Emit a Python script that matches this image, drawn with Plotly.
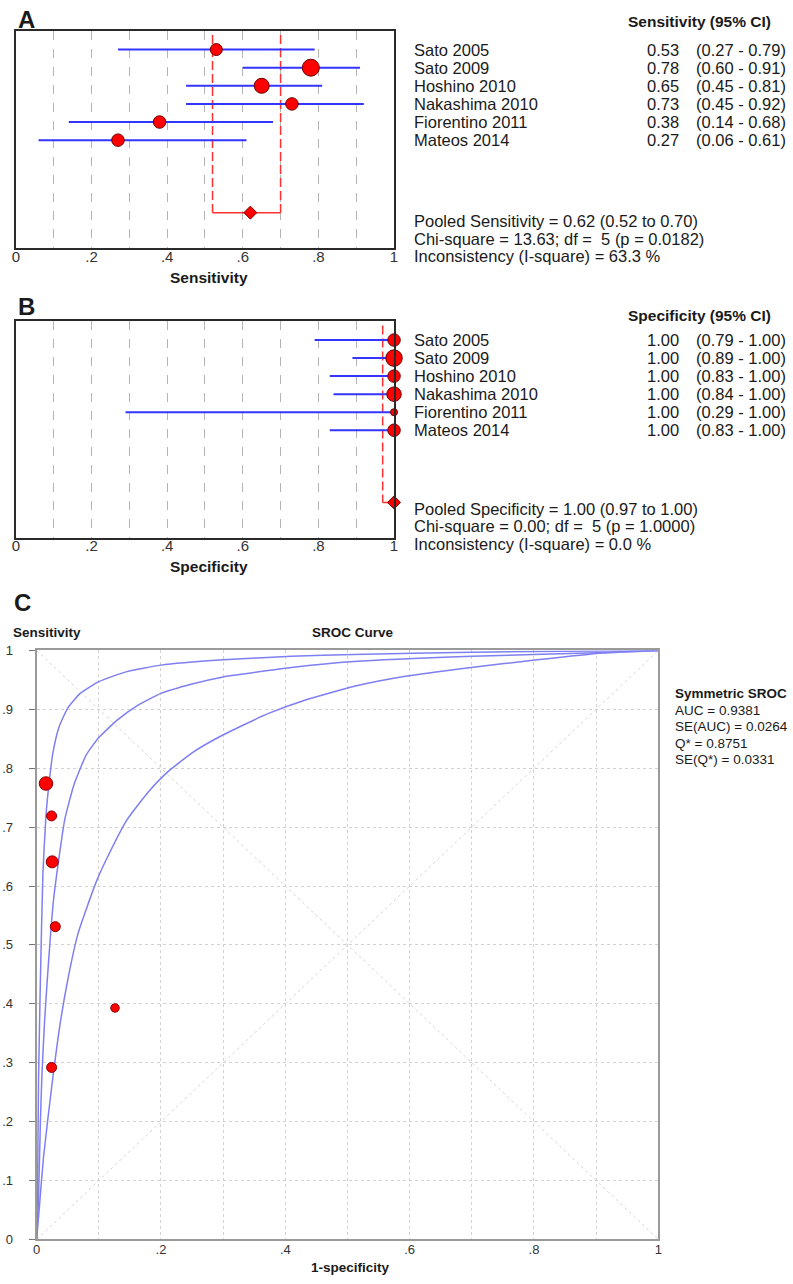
import plotly.graph_objects as go

# ---------------- data ----------------
studies = ["Sato 2005", "Sato 2009", "Hoshino 2010", "Nakashima 2010", "Fiorentino 2011", "Mateos 2014"]

sens = [0.53, 0.78, 0.65, 0.73, 0.38, 0.27]
sens_lo = [0.27, 0.60, 0.45, 0.45, 0.14, 0.06]
sens_hi = [0.79, 0.91, 0.81, 0.92, 0.68, 0.61]
sens_weight = [12, 17, 15, 12.5, 12.5, 12.5]
pooled_sens = [0.62, 0.52, 0.70]  # estimate, low, high
sens_stats = ["Pooled Sensitivity = 0.62 (0.52 to 0.70)",
              "Chi-square = 13.63; df = \u00a05 (p = 0.0182)",
              "Inconsistency (I-square) = 63.3 %"]

spec = [1.00, 1.00, 1.00, 1.00, 1.00, 1.00]
spec_lo = [0.79, 0.89, 0.83, 0.84, 0.29, 0.83]
spec_hi = [1.00, 1.00, 1.00, 1.00, 1.00, 1.00]
spec_weight = [12.5, 16.5, 12.5, 14.5, 7, 12.5]
pooled_spec = [1.00, 0.97, 1.00]
spec_stats = ["Pooled Specificity = 1.00 (0.97 to 1.00)",
              "Chi-square = 0.00; df = \u00a05 (p = 1.0000)",
              "Inconsistency (I-square) = 0.0 %"]

# SROC panel: study points (1-specificity, sensitivity)
roc_fpr = [0.030, 0.015, 0.025, 0.024, 0.126, 0.024]
roc_tpr = [0.531, 0.774, 0.641, 0.719, 0.393, 0.292]
roc_weight = [10, 13.5, 12, 10, 8.5, 10]

# SROC curves
upper_x = [0, 0.0015, 0.003, 0.006, 0.010, 0.015, 0.020, 0.026, 0.036, 0.050, 0.070, 0.100,
           0.145, 0.200, 0.300, 0.410, 0.510, 0.700, 0.900, 1.0]
upper_y = [0, 0.09, 0.27, 0.44, 0.62, 0.72, 0.775, 0.825, 0.870, 0.902, 0.927, 0.947,
           0.964, 0.975, 0.984, 0.990, 0.993, 0.997, 0.999, 1.0]
mid_x = [0, 0.003, 0.006, 0.0085, 0.0127, 0.019, 0.027, 0.035, 0.045, 0.060, 0.080, 0.100,
         0.130, 0.160, 0.200, 0.250, 0.300, 0.360, 0.410, 0.510, 0.700, 0.900, 1.0]
mid_y = [0, 0.07, 0.20, 0.28, 0.37, 0.47, 0.575, 0.641, 0.712, 0.772, 0.823, 0.852,
         0.882, 0.905, 0.927, 0.943, 0.955, 0.964, 0.971, 0.981, 0.990, 0.996, 1.0]
lower_x = [0, 0.0032, 0.011, 0.0243, 0.0376, 0.0508, 0.0667, 0.0958, 0.112, 0.145, 0.180, 0.209,
           0.250, 0.283, 0.330, 0.373, 0.430, 0.511, 0.593, 0.699, 0.805, 0.910, 1.0]
lower_y = [0, 0.04, 0.14, 0.26, 0.365, 0.445, 0.52, 0.607, 0.645, 0.712, 0.760, 0.792,
           0.826, 0.847, 0.872, 0.893, 0.915, 0.939, 0.956, 0.971, 0.984, 0.9955, 1.0]

sroc_stats = ["AUC = 0.9381", "SE(AUC) = 0.0264", "Q* = 0.8751", "SE(Q*) = 0.0331"]

ab_ticks = [0, 0.1, 0.2, 0.3, 0.4, 0.5, 0.6, 0.7, 0.8, 0.9, 1.0]
ab_ticktext = ["0", "", ".2", "", ".4", "", ".6", "", ".8", "", "1"]
c_yticktext = ["0", ".1", ".2", ".3", ".4", ".5", ".6", ".7", ".8", ".9", "1"]
c_xticktext = ["0", "", ".2", "", ".4", "", ".6", "", ".8", "", "1"]

# ---------------- layout helpers ----------------
W, H = 793, 1284
FONT = "Liberation Sans, Arial, sans-serif"
TXT = "#1a1a1a"


def px(x):
    return x / W


def py(y):
    return 1 - y / H


rows = list(range(1, len(studies) + 1))
POOL_ROW = 10
LINE_TOP = 0.2
Y_RANGE = [11.96, -0.04]

BLUE = "#3434ff"
RED = "#ff0000"
EDGE = "#6a0000"

fig = go.Figure()


def forest(xa, ya, est, lo, hi, wts, pooled, dash_lines):
    xs, ys = [], []
    for r, a, b in zip(rows, lo, hi):
        xs += [a, b, None]
        ys += [r, r, None]
    vx, vy = [], []
    for v in dash_lines:
        vx += [v, v, None]
        vy += [LINE_TOP, POOL_ROW, None]
    fig.add_trace(go.Scatter(x=vx, y=vy, mode="lines", xaxis=xa, yaxis=ya,
                             line=dict(color="#ff3030", width=1.5, dash="9px,4px"),
                             hoverinfo="skip", showlegend=False))
    fig.add_trace(go.Scatter(x=[pooled[1], pooled[2]], y=[POOL_ROW, POOL_ROW], mode="lines",
                             xaxis=xa, yaxis=ya, line=dict(color="#ff3030", width=1.5),
                             hoverinfo="skip", showlegend=False))
    fig.add_trace(go.Scatter(x=xs, y=ys, mode="lines", xaxis=xa, yaxis=ya,
                             line=dict(color=BLUE, width=2), showlegend=False))
    fig.add_trace(go.Scatter(x=est, y=rows, mode="markers", xaxis=xa, yaxis=ya, cliponaxis=False,
                             marker=dict(color=RED, opacity=1, size=wts,
                                         line=dict(color=EDGE, width=1)),
                             showlegend=False))
    fig.add_trace(go.Scatter(x=[pooled[0]], y=[POOL_ROW], mode="markers", xaxis=xa, yaxis=ya,
                             cliponaxis=False,
                             marker=dict(color=RED, opacity=1, symbol="diamond", size=10,
                                         line=dict(color=EDGE, width=1)),
                             showlegend=False))


forest("x", "y", sens, sens_lo, sens_hi, sens_weight, pooled_sens, [pooled_sens[1], pooled_sens[2]])
forest("x2", "y2", spec, spec_lo, spec_hi, spec_weight, pooled_spec, [pooled_spec[1]])

# ---- SROC panel ----
for dx, dy in [([0, 1], [0, 1]), ([0, 1], [1, 0])]:
    fig.add_trace(go.Scatter(x=dx, y=dy, mode="lines", xaxis="x3", yaxis="y3",
                             line=dict(color="#d6d6d6", width=1, dash="dot"),
                             hoverinfo="skip", showlegend=False))
for cx, cy in [(upper_x, upper_y), (mid_x, mid_y), (lower_x, lower_y)]:
    fig.add_trace(go.Scatter(x=cx, y=cy, mode="lines", xaxis="x3", yaxis="y3",
                             line=dict(color="#7f7ff2", width=1.5, shape="spline", smoothing=0.5),
                             showlegend=False))
fig.add_trace(go.Scatter(x=roc_fpr, y=roc_tpr, mode="markers", xaxis="x3", yaxis="y3",
                         cliponaxis=False,
                         marker=dict(color=RED, opacity=1, size=roc_weight,
                                     line=dict(color="#8a0000", width=1)),
                         showlegend=False))

ab_x = dict(range=[0, 1], tickvals=ab_ticks, ticktext=ab_ticktext, showgrid=True,
            gridcolor="#b4b4b4", griddash="dash", gridwidth=1, zeroline=False,
            showline=True, mirror=True, linecolor="#2a2a2a", linewidth=1.5, ticks="",
            ticklabelstandoff=-6,
            tickfont=dict(family=FONT, size=15, color="#333"), domain=[px(12), px(394)])
ab_y = dict(range=Y_RANGE, showgrid=False, zeroline=False, showticklabels=False,
            showline=True, mirror=True, linecolor="#2a2a2a", linewidth=1.5, ticks="")

fig.update_layout(
    width=W, height=H, margin=dict(l=0, r=0, t=0, b=0),
    plot_bgcolor="white", paper_bgcolor="white",
    font=dict(family=FONT, color=TXT),
    xaxis=dict(ab_x, anchor="y"),
    yaxis=dict(ab_y, anchor="x", domain=[py(244), py(24)]),
    xaxis2=dict(ab_x, anchor="y2"),
    yaxis2=dict(ab_y, anchor="x2", domain=[py(537), py(318)]),
    xaxis3=dict(range=[0, 1], tickvals=ab_ticks, ticktext=c_xticktext, showgrid=True,
                gridcolor="#d2d2d2", griddash="dot", zeroline=False, showline=True, mirror=True,
                linecolor="#9a9a9a", linewidth=2, ticks="", anchor="y3", ticklabelstandoff=-3,
                tickfont=dict(family=FONT, size=13, color="#333"), domain=[px(33), px(661)]),
    yaxis3=dict(range=[0, 1], tickvals=ab_ticks, ticktext=c_yticktext, showgrid=True,
                gridcolor="#d2d2d2", griddash="dot", zeroline=False, showline=True, mirror=True,
                linecolor="#9a9a9a", linewidth=2, ticks="outside", ticklen=6, tickcolor="#777",
                ticklabelstandoff=13, anchor="x3",
                tickfont=dict(family=FONT, size=13, color="#333"), domain=[py(1247), py(651)]),
)

ann = []


def note(text, x, y, size, xanchor="left", bold=False, yref="paper", yanchor="middle"):
    ann.append(dict(text=f"<b>{text}</b>" if bold else text, x=x, y=y, xref="paper", yref=yref,
                    xanchor=xanchor, yanchor=yanchor, showarrow=False,
                    font=dict(family=FONT, size=size, color=TXT)))


# panel letters
note("A", px(12), py(13), 24, bold=True)
note("B", px(12), py(303), 24, bold=True)
note("C", px(8), py(603), 24, bold=True)

# forest text blocks
for yref, header, hy, est, lo, hi, stats, sy in [
        ("y", "Sensitivity (95% CI)", 15, sens, sens_lo, sens_hi, sens_stats, 217),
        ("y2", "Specificity (95% CI)", 312, spec, spec_lo, spec_hi, spec_stats, 508)]:
    note(header, px(777), py(hy), 15.5, xanchor="right", bold=True)
    for r, name, e, a, b in zip(rows, studies, est, lo, hi):
        note(name, px(412), r, 16.5, yref=yref)
        note(f"{e:.2f}", px(684), r, 16.5, xanchor="right", yref=yref)
        note(f"({a:.2f} - {b:.2f})", px(792), r, 16.5, xanchor="right", yref=yref)
    for i, s in enumerate(stats):
        note(s, px(412), py(sy + 17.5 * i), 16.5)

note("Sensitivity", px(207), py(274), 15.5, xanchor="center", bold=True)
note("Specificity", px(207), py(566), 15.5, xanchor="center", bold=True)

# SROC text
note("Sensitivity", px(7), py(633), 13.5, bold=True)
note("SROC Curve", px(353), py(633), 13.5, xanchor="center", bold=True)
note("1-specificity", px(350), py(1275), 13.5, xanchor="center", bold=True)
note("Symmetric SROC", px(676), py(695), 13.5, bold=True)
for i, s in enumerate(sroc_stats):
    note(s, px(676), py(711.7 + 16.7 * i), 13.5)

fig.update_layout(annotations=ann)
fig.write_html("out.html", config={"displayModeBar": False},
               post_script="document.body.style.margin='0';document.body.style.overflow='hidden';")
